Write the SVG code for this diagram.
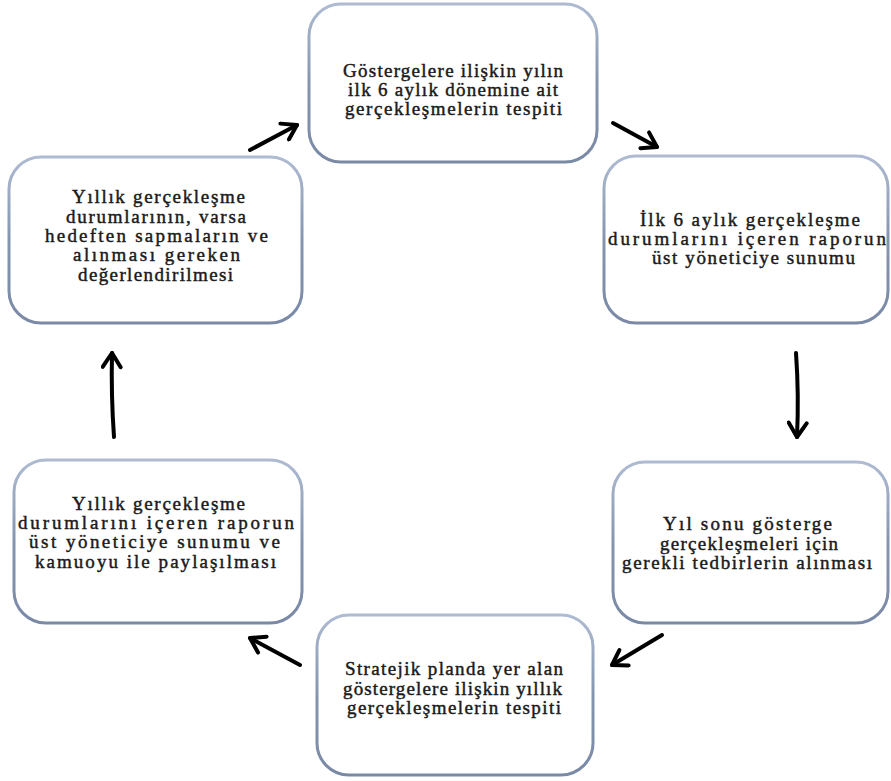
<svg xmlns="http://www.w3.org/2000/svg" width="891" height="781" viewBox="0 0 891 781">
<defs>
<linearGradient id="bd" x1="0" y1="0" x2="0" y2="1">
<stop offset="0" stop-color="#aebbd2"/>
<stop offset="0.5" stop-color="#8595b0"/>
<stop offset="1" stop-color="#7a8aa6"/>
</linearGradient>
<marker id="ah" viewBox="0 0 22 22" refX="17" refY="11" markerWidth="22" markerHeight="22" markerUnits="userSpaceOnUse" orient="auto">
<path d="M3,2 L17,11 L3,20" fill="none" stroke="#000" stroke-width="4" stroke-linecap="round" stroke-linejoin="round"/>
</marker>
</defs>
<style>
.box{fill:#fff;stroke:url(#bd);stroke-width:3}
.t{font-family:"Liberation Serif","Times New Roman",serif;font-size:19px;fill:#1a1a1a;stroke:#1a1a1a;stroke-width:0.45}
.c{fill:none;stroke:#000;stroke-width:4;stroke-linecap:round;marker-end:url(#ah)}
</style>
<rect width="891" height="781" fill="#fff"/>
<g id="n1">
<rect class="box" x="309" y="4" width="288" height="158" rx="32"/>
<text class="t"><tspan x="343" y="77" textLength="220" lengthAdjust="spacing">Göstergelere ilişkin yılın</tspan></text>
<text class="t"><tspan x="348" y="96" textLength="210" lengthAdjust="spacing">ilk 6 aylık dönemine ait</tspan></text>
<text class="t"><tspan x="345" y="115" textLength="217" lengthAdjust="spacing">gerçekleşmelerin tespiti</tspan></text>
</g>
<g id="n2">
<rect class="box" x="604" y="156" width="284" height="167" rx="32"/>
<text class="t"><tspan x="640" y="226" textLength="220" lengthAdjust="spacing">İlk 6 aylık gerçekleşme</tspan></text>
<text class="t"><tspan x="608" y="245" textLength="278" lengthAdjust="spacing">durumlarını içeren raporun</tspan></text>
<text class="t"><tspan x="652" y="264" textLength="203" lengthAdjust="spacing">üst yöneticiye sunumu</tspan></text>
</g>
<g id="n3">
<rect class="box" x="613" y="462" width="275" height="161" rx="32"/>
<text class="t"><tspan x="663" y="530" textLength="169" lengthAdjust="spacing">Yıl  sonu gösterge</tspan></text>
<text class="t"><tspan x="660" y="550" textLength="178" lengthAdjust="spacing">gerçekleşmeleri için</tspan></text>
<text class="t"><tspan x="622" y="569" textLength="250" lengthAdjust="spacing">gerekli tedbirlerin alınması</tspan></text>
</g>
<g id="n4">
<rect class="box" x="317" y="615" width="276" height="160" rx="32"/>
<text class="t"><tspan x="345" y="675" textLength="218" lengthAdjust="spacing">Stratejik planda yer alan</tspan></text>
<text class="t"><tspan x="343" y="695" textLength="219" lengthAdjust="spacing">göstergelere ilişkin yıllık</tspan></text>
<text class="t"><tspan x="347" y="714" textLength="214" lengthAdjust="spacing">gerçekleşmelerin tespiti</tspan></text>
</g>
<g id="n5">
<rect class="box" x="14" y="460" width="288" height="163" rx="32"/>
<text class="t"><tspan x="72" y="510" textLength="173" lengthAdjust="spacing">Yıllık  gerçekleşme</tspan></text>
<text class="t"><tspan x="18" y="529" textLength="276" lengthAdjust="spacing">durumlarını içeren raporun</tspan></text>
<text class="t"><tspan x="29" y="548" textLength="251" lengthAdjust="spacing">üst yöneticiye sunumu ve</tspan></text>
<text class="t"><tspan x="35" y="568" textLength="241" lengthAdjust="spacing">kamuoyu ile paylaşılması</tspan></text>
</g>
<g id="n6">
<rect class="box" x="9" y="157" width="293" height="166" rx="32"/>
<text class="t"><tspan x="72" y="203" textLength="173" lengthAdjust="spacing">Yıllık  gerçekleşme</tspan></text>
<text class="t"><tspan x="66" y="223" textLength="180" lengthAdjust="spacing">durumlarının, varsa</tspan></text>
<text class="t"><tspan x="45" y="242" textLength="223" lengthAdjust="spacing">hedeften sapmaların ve</tspan></text>
<text class="t"><tspan x="73" y="261" textLength="167" lengthAdjust="spacing">alınması gereken</tspan></text>
<text class="t"><tspan x="78" y="281" textLength="155" lengthAdjust="spacing">değerlendirilmesi</tspan></text>
</g>
<g id="connectors">
<path class="c" d="M250,150 L297,125"/>
<path class="c" d="M613,123 L657,147"/>
<path class="c" d="M796,353 Q799,395 797,437"/>
<path class="c" d="M662,635 L612,665"/>
<path class="c" d="M300,665 L250,638"/>
<path class="c" d="M114,437 Q111,395 112,353"/>
</g>
</svg>
